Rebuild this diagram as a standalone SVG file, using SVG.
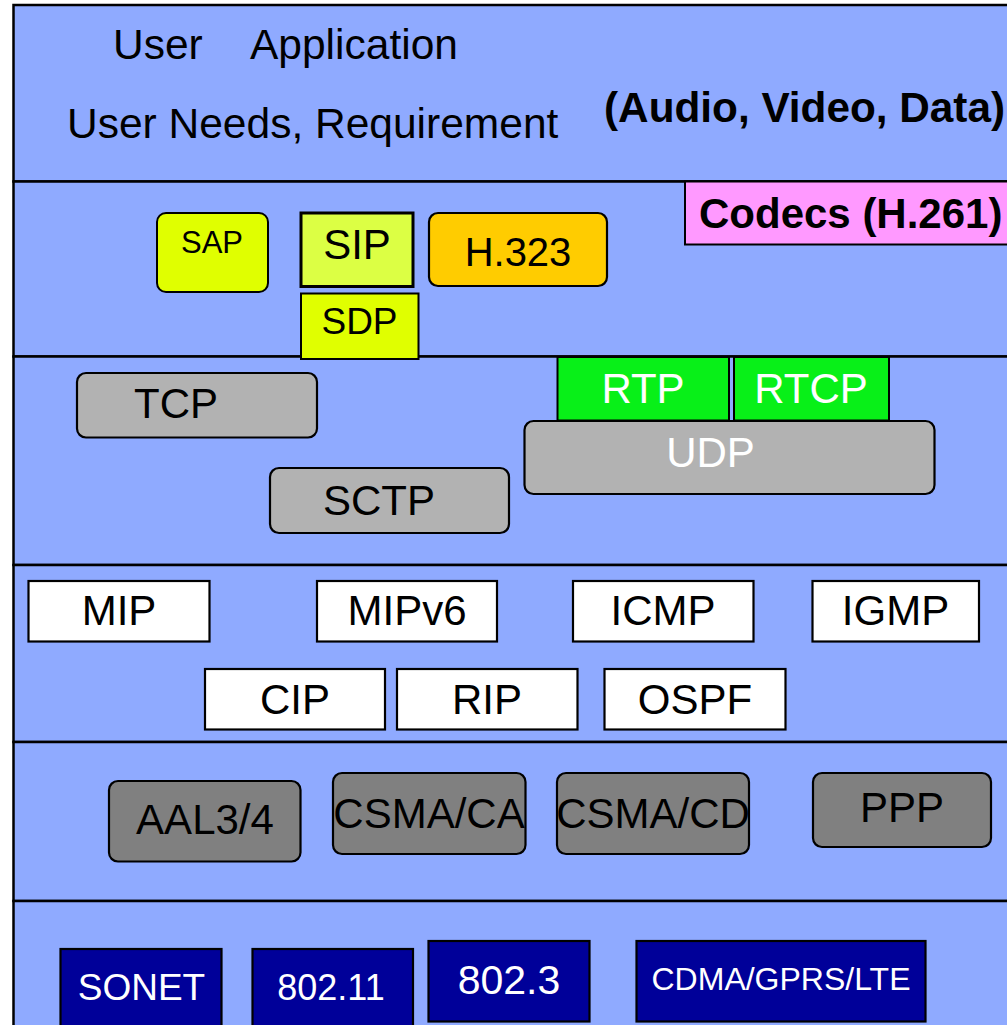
<svg xmlns="http://www.w3.org/2000/svg" width="1007" height="1025" viewBox="0 0 1007 1025">
<style>
text{font-family:"Liberation Sans",Arial,sans-serif;fill:#000}
.lbl{text-anchor:middle;font-size:42px}
.w{fill:#fff}
.b{font-weight:bold}
.layer{fill:#8faaff;stroke:#000;stroke-width:2.5}
.gr{fill:#b2b2b2;stroke:#000;stroke-width:2.2}
.dg{fill:#808080;stroke:#000;stroke-width:2.2}
.wh{fill:#fff;stroke:#000;stroke-width:2.2}
.nv{fill:#000099;stroke:#000;stroke-width:2.2}
.gn{fill:#08f018;stroke:#000;stroke-width:2}
</style>
<rect width="1007" height="1025" fill="#fff"/>
<g id="layers">
<rect class="layer" x="13.5" y="5" width="1010" height="176.5"/>
<rect class="layer" x="13.5" y="181.5" width="1010" height="175"/>
<rect class="layer" x="13.5" y="356.5" width="1010" height="208.5"/>
<rect class="layer" x="13.5" y="565" width="1010" height="177"/>
<rect class="layer" x="13.5" y="742" width="1010" height="159"/>
<rect class="layer" x="13.5" y="901" width="1010" height="140"/>
</g>
<g id="application">
<text x="113" y="59" font-size="42.5">User</text>
<text x="250" y="59" font-size="42.5">Application</text>
<text x="67" y="138" font-size="42.5">User Needs, Requirement</text>
<text class="b" x="604" y="122" font-size="42.3">(Audio, Video, Data)</text>
</g>
<g id="codecs"><rect x="685" y="181.5" width="330" height="63" fill="#ff99ff" stroke="#000" stroke-width="2"/><text class="b" x="699" y="228" font-size="42">Codecs (H.261)</text></g>
<g id="sap"><rect x="157" y="213" width="111" height="79" rx="9" fill="#e0ff00" stroke="#000" stroke-width="2"/><text class="lbl" x="212" y="253" style="font-size:31px">SAP</text></g>
<g id="sip"><rect x="301" y="213" width="112" height="73.5" fill="#dcff44" stroke="#000" stroke-width="3"/><text class="lbl" x="357" y="259">SIP</text></g>
<g id="sdp"><rect x="301" y="293.5" width="117.5" height="65.5" fill="#e0ff00" stroke="#000" stroke-width="2"/><text class="lbl" x="359.5" y="334" style="font-size:37px">SDP</text></g>
<g id="h323"><rect x="429" y="213" width="178" height="73" rx="9" fill="#ffcc00" stroke="#000" stroke-width="2.2"/><text class="lbl" x="518" y="266" style="font-size:40px">H.323</text></g>
<g id="tcp"><rect class="gr" x="77" y="373" width="240" height="64.5" rx="9"/><text class="lbl" x="176" y="418">TCP</text></g>
<g id="sctp"><rect class="gr" x="270" y="468" width="239" height="65" rx="9"/><text class="lbl" x="379" y="515">SCTP</text></g>
<g id="rtp"><rect class="gn" x="557.5" y="357" width="171.5" height="63.5"/><text class="lbl w" x="643" y="403">RTP</text></g>
<g id="rtcp"><rect class="gn" x="734" y="357" width="155" height="63.5"/><text class="lbl w" x="811" y="403">RTCP</text></g>
<g id="udp"><rect class="gr" x="524.5" y="421" width="410" height="73" rx="9"/><text class="lbl w" x="710.5" y="467">UDP</text></g>
<g id="mip"><rect class="wh" x="28.5" y="581" width="181" height="60.5"/><text class="lbl" x="119" y="625">MIP</text></g>
<g id="mipv6"><rect class="wh" x="317" y="581" width="180" height="60.5"/><text class="lbl" x="407" y="625">MIPv6</text></g>
<g id="icmp"><rect class="wh" x="573" y="581" width="180.5" height="60.5"/><text class="lbl" x="663" y="625">ICMP</text></g>
<g id="igmp"><rect class="wh" x="812.5" y="581" width="166.5" height="60.5"/><text class="lbl" x="895.5" y="625">IGMP</text></g>
<g id="cip"><rect class="wh" x="205" y="669" width="180" height="60.5"/><text class="lbl" x="295" y="713.5">CIP</text></g>
<g id="rip"><rect class="wh" x="397" y="669" width="180.5" height="60.5"/><text class="lbl" x="487" y="713.5">RIP</text></g>
<g id="ospf"><rect class="wh" x="604.5" y="669" width="181" height="60.5"/><text class="lbl" x="695" y="713.5">OSPF</text></g>
<g id="aal"><rect class="dg" x="109" y="781" width="191.5" height="80.5" rx="9"/><text class="lbl" x="205" y="833.5">AAL3/4</text></g>
<g id="csmaca"><rect class="dg" x="333" y="773" width="192.5" height="81" rx="9"/><text class="lbl" x="429" y="827.5">CSMA/CA</text></g>
<g id="csmacd"><rect class="dg" x="557" y="773" width="192" height="81" rx="9"/><text class="lbl" x="653" y="827.5">CSMA/CD</text></g>
<g id="ppp"><rect class="dg" x="813" y="773" width="178" height="74" rx="9"/><text class="lbl" x="902" y="822">PPP</text></g>
<g id="sonet"><rect class="nv" x="60.5" y="949" width="161" height="90"/><text class="lbl w" x="141.5" y="999.5" style="font-size:37px">SONET</text></g>
<g id="wifi"><rect class="nv" x="252.5" y="949" width="160.5" height="90"/><text class="lbl w" x="331" y="1000" style="font-size:36px">802.11</text></g>
<g id="eth"><rect class="nv" x="428.5" y="941" width="161" height="80.5"/><text class="lbl w" x="509" y="993.5" style="font-size:41px">802.3</text></g>
<g id="cell"><rect class="nv" x="636.5" y="941" width="289" height="80.5"/><text class="lbl w" x="781" y="990" style="font-size:32px">CDMA/GPRS/LTE</text></g>
<g id="connectors"></g>
</svg>
